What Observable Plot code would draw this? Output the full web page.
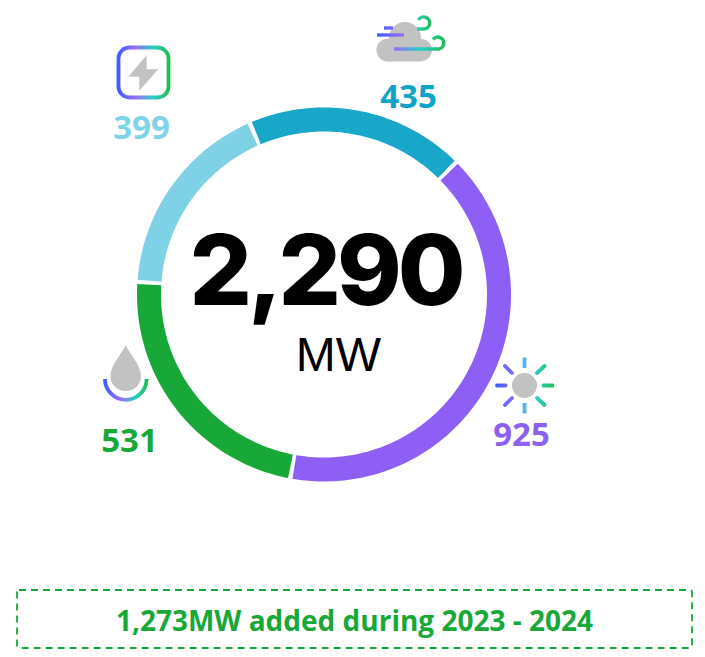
<!DOCTYPE html>
<html>
<head>
<meta charset="utf-8">
<script src="https://cdn.jsdelivr.net/npm/d3@7"></script>
<script src="https://cdn.jsdelivr.net/npm/@observablehq/plot@0.6"></script>
<style>
html,body{margin:0;padding:0;background:#fff}
svg{display:block}
.big-total text{letter-spacing:-4px}
</style>
</head>
<body>
<div id="chart"></div>
<script>
const categories = ["Wind", "Solar", "Hydro", "Storage"];
const values = [435, 925, 531, 399];
const colors = ["#18a6c9", "#8d5ff5", "#18a838", "#7fd1e6"];
const labelColors = ["#0ea5c6", "#8d5ff5", "#18a838", "#7fd4e8"];
const addedMW = 1273;
const unit = "MW";
const periodLabel = "2023 - 2024";

// Layout, in page pixels
const W = 705, H = 657;
const cx = 323.5, cy = 294, ringR = 175, ringW = 24;
const startDeg = -23.4, padDeg = 0.65;
const labelPos = {Wind: [408, 107], Solar: [521, 445], Hydro: [129, 451], Storage: [141, 138]};

const total = d3.sum(values);
let acc = startDeg;
const ringPts = categories.flatMap((c, i) => {
  const span = values[i] / total * 360;
  const a0 = acc + padDeg, a1 = acc + span - padDeg;
  acc += span;
  const n = Math.ceil(a1 - a0);
  return d3.range(n + 1).map(k => {
    const t = (a0 + (a1 - a0) * k / n) * Math.PI / 180;
    return {c, x: cx + ringR * Math.sin(t), y: cy - ringR * Math.cos(t)};
  });
});
const labels = categories.map((c, i) => ({c, v: values[i], col: labelColors[i], x: labelPos[c][0], y: labelPos[c][1]}));

const GREY = "#c2c2c2";
const iconMarkup = `
<defs>
  <linearGradient id="gStore" gradientUnits="userSpaceOnUse" x1="118" y1="0" x2="169" y2="0">
    <stop offset="0" stop-color="#3f5cff"/><stop offset=".35" stop-color="#9a70f8"/><stop offset=".7" stop-color="#25cfc0"/><stop offset="1" stop-color="#1fbf55"/>
  </linearGradient>
  <linearGradient id="gWind1" gradientUnits="userSpaceOnUse" x1="377" y1="0" x2="405" y2="0">
    <stop offset="0" stop-color="#3f5cff"/><stop offset="1" stop-color="#a070f8"/>
  </linearGradient>
  <linearGradient id="gWind2" gradientUnits="userSpaceOnUse" x1="394" y1="0" x2="444" y2="0">
    <stop offset="0" stop-color="#9a6cf8"/><stop offset=".55" stop-color="#25cfc8"/><stop offset="1" stop-color="#1fbf55"/>
  </linearGradient>
  <linearGradient id="gWind3" gradientUnits="userSpaceOnUse" x1="416" y1="0" x2="431" y2="0">
    <stop offset="0" stop-color="#25cfc8"/><stop offset="1" stop-color="#1fbf55"/>
  </linearGradient>
  <linearGradient id="gSun" gradientUnits="userSpaceOnUse" x1="495" y1="0" x2="554" y2="0">
    <stop offset="0" stop-color="#3f5cff"/><stop offset=".25" stop-color="#7a68f5"/><stop offset=".5" stop-color="#58b0f8"/><stop offset=".75" stop-color="#25cfb5"/><stop offset="1" stop-color="#1fbf55"/>
  </linearGradient>
  <linearGradient id="gDrop" gradientUnits="userSpaceOnUse" x1="104" y1="0" x2="148" y2="0">
    <stop offset="0" stop-color="#3f5cff"/><stop offset=".4" stop-color="#9a70f8"/><stop offset=".7" stop-color="#25cfc0"/><stop offset="1" stop-color="#1fbf55"/>
  </linearGradient>
</defs>
<rect x="118.5" y="47.5" width="50" height="50" rx="11" fill="none" stroke="url(#gStore)" stroke-width="3.8"/>
<path d="M146.7 55 L128.3 76.7 L139.3 76.7 L139.3 90.7 L158.3 69.3 L146.7 69.3 Z" fill="${GREY}"/>
<g fill="${GREY}">
  <circle cx="405" cy="38" r="16"/><circle cx="388" cy="50" r="11.5"/><circle cx="421" cy="50" r="11"/>
  <rect x="388" y="44" width="33" height="17.5"/>
</g>
<g fill="none" stroke-width="3.4" stroke-linecap="butt">
  <path d="M384 28 H393" stroke="url(#gWind1)"/>
  <path d="M377 35 H404" stroke="url(#gWind1)"/>
  <path d="M394 49 H437 A6 6 0 1 0 433 39.5" stroke="url(#gWind2)"/>
  <path d="M417 29 H423.5 A6 6 0 1 0 418.5 20" stroke="url(#gWind3)"/>
</g>
<circle cx="524.5" cy="385.5" r="12.5" fill="${GREY}"/>
<g stroke="url(#gSun)" stroke-width="3.8" stroke-linecap="round" fill="none">
  <path d="M505.5 385.5 H497 M552.5 385.5 H543.5 M512 373 L505 366 M537 373 L544.5 366 M512 398 L505 405 M537 398 L544.5 405"/>
</g>
<path d="M524.5 368 V357.5 M524.5 413.5 V403" stroke="#58b0f8" stroke-width="3.8" fill="none"/>
<path d="M125.7 345 C123 352 110.5 365 110.5 376 C110.5 385 117.5 391 125.7 391 C134 391 141 385 141 376 C141 365 128.4 352 125.7 345 Z" fill="${GREY}"/>
<path d="M105 379 A20.8 20.8 0 0 0 146.6 379" fill="none" stroke="url(#gDrop)" stroke-width="3.8"/>
`;

const chart = Plot.plot({
  width: W, height: H,
  marginTop: 0, marginRight: 0, marginBottom: 0, marginLeft: 0,
  style: {background: "#fff", overflow: "visible"},
  x: {domain: [0, W], range: [0, W], axis: null},
  y: {domain: [0, H], range: [0, H], axis: null},
  color: {domain: categories, range: colors},
  marks: [
    Plot.line(ringPts, {x: "x", y: "y", z: "c", stroke: "c", strokeWidth: ringW, strokeLinecap: "butt", strokeLinejoin: "round"}),
    Plot.text([d3.format(",")(total)], {x: 325, y: 304, text: d => d, fontFamily: "Inter", fontWeight: 800, fontSize: 98, fill: "#000", lineAnchor: "bottom", textAnchor: "middle", className: "big-total"}),
    Plot.text([unit], {x: 338, y: 370, text: d => d, fontFamily: "Liberation Sans", fontSize: 48, fill: "#000", lineAnchor: "bottom", textAnchor: "middle"}),
    Plot.text(labels, {x: "x", y: "y", text: "v", fill: "col", fontFamily: "Open Sans", fontWeight: 700, fontSize: 33, lineAnchor: "bottom", textAnchor: "middle"}),
    Plot.rect([{}], {x1: () => 17, x2: () => 692, y1: () => 590, y2: () => 648, fill: "none", stroke: "#18a838", strokeWidth: 1.8, strokeDasharray: "7,5", rx: 2}),
    Plot.text([`${d3.format(",")(addedMW)}${unit} added during ${periodLabel}`], {x: 354, y: 630, text: d => d, fill: "#18a838", fontFamily: "Open Sans", fontWeight: 700, fontSize: 28, lineAnchor: "bottom", textAnchor: "middle"}),
    (index, {x, y}) => {
      const g = d3.create("svg:g").attr("transform", `translate(${x(0)},${y(0)})`);
      g.html(iconMarkup);
      return g.node();
    }
  ]
});
document.getElementById("chart").append(chart);
</script>
</body>
</html>
